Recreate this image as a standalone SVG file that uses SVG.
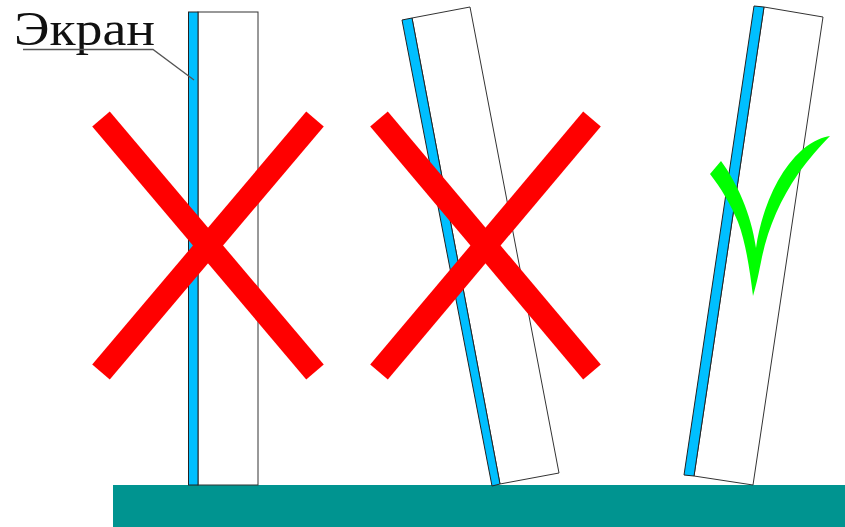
<svg xmlns="http://www.w3.org/2000/svg" width="845" height="527" viewBox="0 0 845 527">
<style>
.scr{fill:#00BFFF;stroke:#222;stroke-width:1}
.box{fill:#fff;stroke:#333;stroke-width:1}
.x{stroke:#FF0000;stroke-width:23;stroke-linecap:butt;fill:none}
.lead{stroke:#555;stroke-width:1.3;fill:none}
.lbl{font-family:"Liberation Serif","Times New Roman",serif;font-size:49px;fill:#111}
</style>
<rect width="845" height="527" fill="#fff"/>
<g id="ground"><rect x="113" y="485" width="732" height="42" fill="#009490"/></g>
<g id="panel1">
<rect class="box" x="198" y="12" width="60" height="473"/>
<rect class="scr" x="188.5" y="12" width="9.5" height="473"/>
</g>
<g id="panel2">
<polygon class="box" points="412,18 470,7 559,473 500,484"/>
<polygon class="scr" points="402,20 412,18 500,484 492,486"/>
</g>
<g id="panel3">
<polygon class="box" points="764,7 823,17 753,485 694,476"/>
<polygon class="scr" points="754,6 764,7 694,476 684,475"/>
</g>
<g id="label">
<text class="lbl" x="14" y="45" textLength="141" lengthAdjust="spacingAndGlyphs">Экран</text>
</g>
<g id="connectors">
<polyline class="lead" points="23,49.5 153,49.5 194,80"/>
</g>
<g id="cross1">
<line class="x" x1="101" y1="119" x2="315" y2="372"/>
<line class="x" x1="315" y1="119" x2="101" y2="372"/>
</g>
<g id="cross2">
<line class="x" x1="379" y1="119" x2="592" y2="372"/>
<line class="x" x1="592" y1="119" x2="379" y2="372"/>
</g>
<g id="check">
<path fill="#00FF00" d="M710,174 L721,161 C737,183 751,213 756,248 C761,212 777,172 802,150 C814,140 823,137 830,136 C820,146 808,160 798,174 C780,200 767,230 761,262 C758,277 756,286 753,296 C750,272 746,243 738,222 C731,205 721,188 710,174 Z"/>
</g>
</svg>
